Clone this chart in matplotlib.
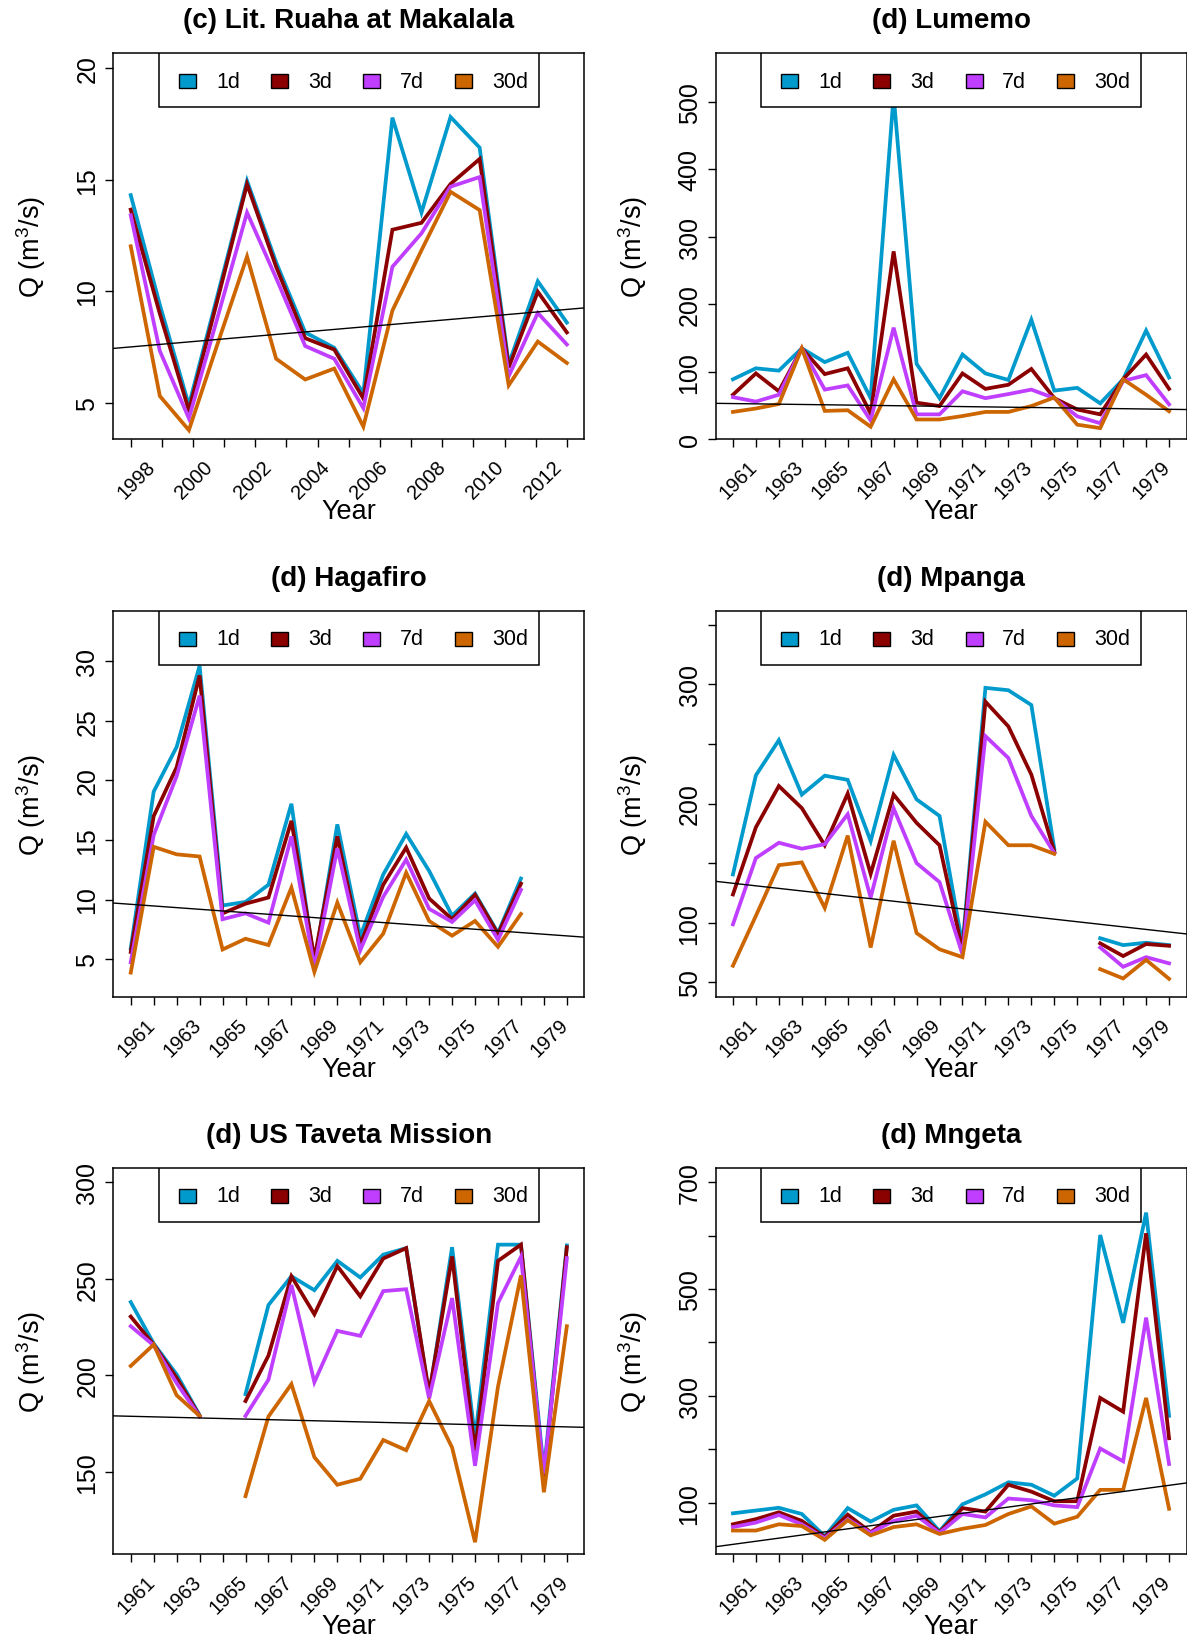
import numpy as np
import matplotlib
matplotlib.use("Agg")
import matplotlib.pyplot as plt
from matplotlib.patches import Rectangle

plt.rcParams['font.family'] = ['Liberation Sans', 'DejaVu Sans']
plt.rcParams['mathtext.fontset'] = 'custom'
plt.rcParams['mathtext.rm'] = 'Liberation Sans'

# ---------------------------------------------------------------- data
durations = ["1d", "3d", "7d", "30d"]
colors = ["#009ACD", "#8B0000", "#BF3EFF", "#CD6600"]

# Lit. Ruaha at Makalala: 16 annual maxima spread over the 1998-2012 axis
ruaha_years = list(range(1998, 2014))
ruaha_1d = [14.31, 9.4, 4.9, 9.9, 14.95, 11.3, 8.16, 7.47, 5.43, 17.78, 13.53, 17.81, 16.44, 6.74, 10.45, 8.6]
ruaha_3d = [13.66, 9.0, 4.66, 9.7, 14.8, 11.1, 7.9, 7.39, 5.2, 12.76, 13.07, 14.81, 15.93, 6.59, 9.98, 8.16]
ruaha_7d = [13.41, 7.33, 4.31, 8.9, 13.53, 10.6, 7.55, 6.98, 4.77, 11.1, 12.6, 14.69, 15.12, 6.2, 9.03, 7.62]
ruaha_30d = [12.02, 5.31, 3.78, 7.7, 11.56, 6.98, 6.05, 6.54, 3.94, 9.14, 11.84, 14.46, 13.64, 5.79, 7.75, 6.79]
ruaha_trend = [7.51, 9.19]          # fitted values at 1998 and 2012

years_6180 = list(range(1961, 1981))
nan = np.nan

lumemo_1d = [88.7, 105, 101.5, 134.6, 114.2, 128, 60.7, 510, 111.7, 60.7, 125.4, 97.4, 87.7, 177, 71.9, 76, 53, 88.7, 161, 91.3]
lumemo_3d = [65.8, 97.4, 70.9, 134.6, 96.4, 105, 37.7, 278.4, 54, 49, 97.4, 74.5, 80.6, 104, 60.7, 43.9, 36.7, 88.7, 125.4, 74.5]
lumemo_7d = [62.2, 55.6, 65.8, 134.6, 73.4, 79.6, 27.5, 165.2, 36.7, 36.7, 70.9, 60.7, 66.8, 73.4, 60.7, 33.7, 23.5, 86.2, 94.9, 51.5]
lumemo_30d = [40.3, 45.4, 52, 134.6, 41.8, 42.8, 18.4, 88.7, 29.1, 29.1, 34.2, 40.3, 40.3, 49, 61.7, 21.4, 16.3, 88.7, 65.8, 41.3]
lumemo_trend = [52.7, 44.2]         # fitted values at 1961 and 1980

hagafiro_1d = [5.9, 19.05, 22.8, 29.6, 9.5, 9.8, 11.24, 18.03, 4.6, 16.3, 6.9, 12.1, 15.5, 12.4, 8.64, 10.5, 7.2, 11.76, nan, nan]
hagafiro_3d = [5.6, 17.0, 21.1, 28.8, 8.84, 9.65, 10.17, 16.6, 5.03, 15.3, 6.2, 11.24, 14.36, 10.09, 8.35, 10.4, 7.1, 11.33, nan, nan]
hagafiro_7d = [4.74, 15.4, 20.35, 27.1, 8.35, 8.84, 8.06, 15.3, 4.3, 14.3, 5.75, 10.23, 13.35, 9.22, 8.12, 9.94, 6.62, 10.81, nan, nan]
hagafiro_30d = [3.87, 14.42, 13.79, 13.61, 5.81, 6.71, 6.18, 11.0, 3.93, 9.74, 4.74, 7.14, 12.25, 8.2, 6.97, 8.2, 6.04, 8.79, nan, nan]
hagafiro_trend = [9.6, 6.95]

mpanga_1d = [140.5, 223.7, 253.2, 207.5, 223.4, 219.9, 168.5, 240.8, 203.5, 189.6, 81.2, 297.1, 295.1, 282.7, 162.1, nan, 87, 81.2, 83.2, 81.2]
mpanga_3d = [123.7, 180.1, 214.7, 196.2, 165, 208.4, 141, 207.5, 183.8, 165, 76.9, 285.5, 264.7, 224.3, 159.8, nan, 82.7, 72, 82.1, 80.6]
mpanga_7d = [98.6, 154.3, 167.1, 162.1, 165.9, 191, 121.1, 196, 150, 134.1, 73.4, 256.6, 238.2, 189.6, 158.4, nan, 79.2, 63, 71.1, 65.9]
mpanga_30d = [63.9, 105.8, 148.3, 150.6, 112.4, 173.1, 79.2, 168.8, 91.3, 77.7, 71.1, 184.7, 165, 165, 157.8, nan, 61, 53.2, 68.8, 52.9]
mpanga_trend = [133.1, 92.2]

taveta_1d = [237.9, 216.4, 200.4, 179.3, nan, 190.2, 236.4, 251.3, 244.1, 259.3, 250.7, 262.5, 265.9, 189.6, 266.4, 167.3, 267.7, 267.7, 150.4, 267.3]
taveta_3d = [230.4, 215.9, 198.6, 178.9, nan, 186.6, 210.2, 251.3, 231.6, 256.6, 240.9, 260.5, 265.9, 190.5, 261.6, 160.5, 259.3, 267.7, 145.9, 266.4]
taveta_7d = [225.4, 215.5, 195.9, 178.6, nan, 178.9, 197.7, 246.8, 196.4, 223, 220.4, 243.6, 244.6, 187.9, 240, 153, 237.5, 261.4, 148.9, 260.7]
taveta_30d = [204.8, 215.9, 189.6, 178.9, nan, 137.3, 178.6, 195.4, 157.5, 143.2, 146.3, 166.4, 161.1, 186.6, 162.5, 113.4, 194.1, 251.8, 139.3, 225.4]
taveta_trend = [178.7, 173.2]

mngeta_1d = [80, 85.2, 90.3, 78.7, 36.8, 89.7, 64.5, 86.5, 94.8, 46.5, 96.8, 115.5, 138.1, 133.5, 112.9, 145.2, 601.3, 436.8, 643.2, 262.6]
mngeta_3d = [59.4, 69, 81.9, 65.8, 35.5, 77.4, 44.5, 75.5, 83.2, 44.5, 89.7, 83.2, 133.5, 120.6, 102.6, 102.6, 296.1, 270.3, 604.5, 220.6]
mngeta_7d = [54.2, 62.6, 76.8, 59.4, 33.5, 69, 43.2, 65.8, 75.5, 43.2, 78.7, 72.3, 107.7, 104.5, 94.8, 91.6, 201.3, 177.4, 446.5, 172.3]
mngeta_30d = [47.7, 47.7, 59.4, 56.1, 30.3, 67.1, 38.7, 54.2, 59.4, 41.3, 51, 58.1, 78.7, 92.9, 60.6, 73.5, 123.9, 123.9, 296.1, 88.4]
mngeta_trend = [21.8, 132.4]

# -------------------------------------------------------------- layout
W, H = 1187, 1640
fig = plt.figure(figsize=(W / 100, H / 100), dpi=100)
fig.patch.set_facecolor("white")

col_left = [113.3, 715.5]
row_top = [54.4, 612.0, 1168.9]
ax_w, ax_h = 471.0, 385.7
PT = 0.72  # points per pixel at 100 dpi

ruaha_pos = [1998 + (y - 1998) * 14 / 15 for y in ruaha_years]

panels = [
    dict(title="(c) Lit. Ruaha at Makalala", x=ruaha_pos, xticks=list(range(1998, 2013)),
         xlim=(1997.44, 2012.56), lab_pos=ruaha_pos[::2], lab_txt=[str(y) for y in ruaha_years[::2]],
         series=[ruaha_1d, ruaha_3d, ruaha_7d, ruaha_30d], trend=ruaha_trend, trend_x=(1998, 2012),
         ylim=(3.38, 20.66), yticks=[5, 10, 15, 20], ylabels=["5", "10", "15", "20"]),
    dict(title="(d) Lumemo", x=years_6180, xticks=years_6180, xlim=(1960.24, 1980.76),
         lab_pos=years_6180[::2], lab_txt=[str(y) for y in years_6180[::2]],
         series=[lumemo_1d, lumemo_3d, lumemo_7d, lumemo_30d], trend=lumemo_trend, trend_x=(1961, 1980),
         ylim=(0, 572), yticks=[0, 100, 200, 300, 400, 500], ylabels=["0", "100", "200", "300", "400", "500"]),
    dict(title="(d) Hagafiro", x=years_6180, xticks=years_6180, xlim=(1960.24, 1980.76),
         lab_pos=years_6180[::2], lab_txt=[str(y) for y in years_6180[::2]],
         series=[hagafiro_1d, hagafiro_3d, hagafiro_7d, hagafiro_30d], trend=hagafiro_trend, trend_x=(1961, 1980),
         ylim=(1.85, 34.2), yticks=[5, 10, 15, 20, 25, 30], ylabels=["5", "10", "15", "20", "25", "30"]),
    dict(title="(d) Mpanga", x=years_6180, xticks=years_6180, xlim=(1960.24, 1980.76),
         lab_pos=years_6180[::2], lab_txt=[str(y) for y in years_6180[::2]],
         series=[mpanga_1d, mpanga_3d, mpanga_7d, mpanga_30d], trend=mpanga_trend, trend_x=(1961, 1980),
         ylim=(37.9, 361.6), yticks=[50, 100, 150, 200, 250, 300, 350],
         ylabels=["50", "100", "", "200", "", "300", ""]),
    dict(title="(d) US Taveta Mission", x=years_6180, xticks=years_6180, xlim=(1960.24, 1980.76),
         lab_pos=years_6180[::2], lab_txt=[str(y) for y in years_6180[::2]],
         series=[taveta_1d, taveta_3d, taveta_7d, taveta_30d], trend=taveta_trend, trend_x=(1961, 1980),
         ylim=(107.5, 307.5), yticks=[150, 200, 250, 300], ylabels=["150", "200", "250", "300"]),
    dict(title="(d) Mngeta", x=years_6180, xticks=years_6180, xlim=(1960.24, 1980.76),
         lab_pos=years_6180[::2], lab_txt=[str(y) for y in years_6180[::2]],
         series=[mngeta_1d, mngeta_3d, mngeta_7d, mngeta_30d], trend=mngeta_trend, trend_x=(1961, 1980),
         ylim=(4.5, 727), yticks=[100, 200, 300, 400, 500, 600, 700],
         ylabels=["100", "", "300", "", "500", "", "700"]),
]

# legend geometry in axes fraction
leg_box = (0.097, 0.86, 0.806, 0.14)
leg_sw_x = [0.157, 0.352, 0.549, 0.743]
leg_tx_x = [0.218, 0.413, 0.608, 0.805]
leg_y = 0.928
sw_w, sw_h = 17 / ax_w, 14 / ax_h

for i, p in enumerate(panels):
    r, c = divmod(i, 2)
    left = col_left[c] / W
    bottom = 1 - (row_top[r] + ax_h) / H
    ax = fig.add_axes([left, bottom, ax_w / W, ax_h / H])

    for vals, col in zip(p["series"], colors):
        ax.plot(p["x"], vals, color=col, lw=2.7, solid_joinstyle="miter", zorder=3)
    ax.axline((p["trend_x"][0], p["trend"][0]), (p["trend_x"][1], p["trend"][1]),
              color="black", lw=1.0, zorder=4)

    ax.set_xlim(*p["xlim"])
    ax.set_ylim(*p["ylim"])
    ax.set_xticks(p["xticks"])
    ax.set_xticklabels([])
    ax.set_yticks(p["yticks"])
    ax.set_yticklabels(p["ylabels"])
    ax.tick_params(axis="both", direction="out", length=6, width=1.0, colors="black")
    ax.tick_params(axis="y", labelsize=18, pad=4, labelrotation=90)
    for lbl in ax.get_yticklabels():
        lbl.set_va("center")
    for s in ax.spines.values():
        s.set_linewidth(1.1)

    # rotated year labels
    for xp, txt in zip(p["lab_pos"], p["lab_txt"]):
        ax.annotate(txt, xy=(xp, 0), xycoords=("data", "axes fraction"),
                    xytext=(5.4 * PT, -40.3 * PT), textcoords="offset points",
                    ha="center", va="center", rotation=45, fontsize=14.5)

    ax.annotate(p["title"], xy=(0.5, 1), xycoords="axes fraction",
                xytext=(0, 33 * PT), textcoords="offset points",
                ha="center", va="center", fontsize=20, fontweight="bold")
    ax.annotate("Year", xy=(0.5, 0), xycoords="axes fraction",
                xytext=(0, -72.3 * PT), textcoords="offset points",
                ha="center", va="center", fontsize=19.5)
    ax.annotate(r"Q (m$^{\mathrm{3}}$/s)", xy=(0, 0.5), xycoords="axes fraction",
                xytext=(-82.7 * PT, 0), textcoords="offset points",
                ha="center", va="center", rotation=90, fontsize=19.5)

    # legend
    ax.add_patch(Rectangle(leg_box[:2], leg_box[2], leg_box[3], transform=ax.transAxes,
                           facecolor="white", edgecolor="black", lw=1.1, zorder=10))
    for sx, tx, lab, col in zip(leg_sw_x, leg_tx_x, durations, colors):
        ax.add_patch(Rectangle((sx - sw_w / 2, leg_y - sw_h / 2), sw_w, sw_h, transform=ax.transAxes,
                               facecolor=col, edgecolor="black", lw=1.0, zorder=11))
        ax.text(tx, leg_y, lab, transform=ax.transAxes, ha="left", va="center",
                fontsize=15.5, zorder=11)

fig.savefig("out.png", dpi=100, facecolor="white")
